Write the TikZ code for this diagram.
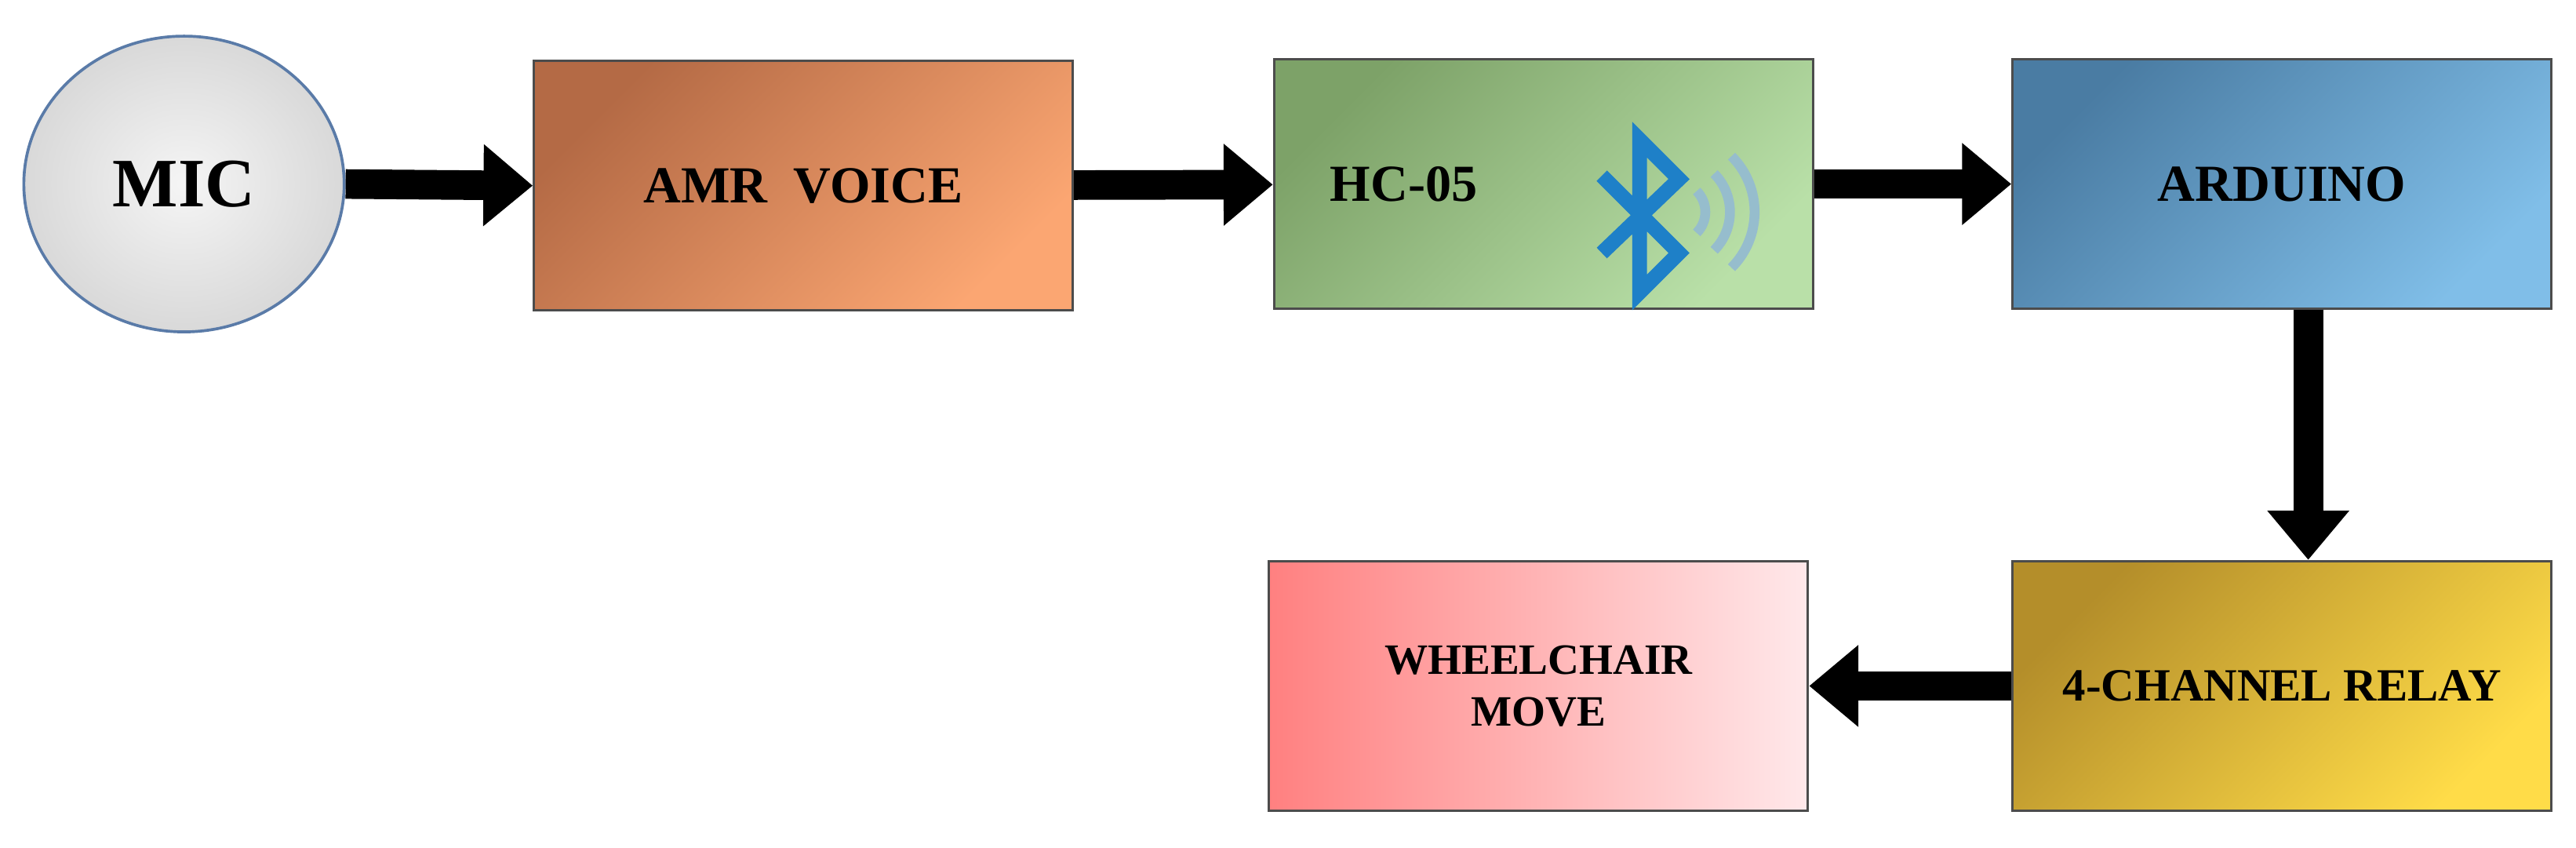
\documentclass[tikz,border=0pt]{standalone}
\usepackage{fontspec}
\setmainfont{Liberation Serif}
\usetikzlibrary{arrows.meta,positioning,shapes.geometric}
\definecolor{micedge}{HTML}{5A7BA8}
\definecolor{amrA}{HTML}{B46A45}
\definecolor{amrB}{HTML}{FBA672}
\definecolor{hcA}{HTML}{7DA268}
\definecolor{hcB}{HTML}{B9E0A8}
\definecolor{ardA}{HTML}{4A7CA3}
\definecolor{ardB}{HTML}{80BEE8}
\definecolor{relA}{HTML}{B48E2A}
\definecolor{relB}{HTML}{FFDC48}
\definecolor{whA}{HTML}{FF8080}
\definecolor{whB}{HTML}{FFE8EA}
\definecolor{btblue}{HTML}{1E80C8}
\begin{document}
\begin{tikzpicture}[
    x=1cm, y=1cm,
    block/.style={
        rectangle,
        draw=black!70,
        line width=0.4pt,
        minimum width=3.28cm,
        minimum height=1.52cm,
        align=center,
        font=\bfseries\fontsize{9}{11}\selectfont
    },
    diag/.style 2 args={left color=#1, right color=#2, shading angle=45},
    flow/.style={-{Triangle[length=3mm,width=4.8mm]}, line width=1.8mm, black}
]
    \useasboundingbox (0,0) rectangle (15.68,5.16);

    % --- TOP ROW ---
    \node[ellipse, draw=micedge, line width=0.5pt, minimum width=1.95cm, minimum height=1.8cm,
          inner color=gray!8, outer color=gray!30,
          font=\bfseries\fontsize{12}{14}\selectfont] (mic) at (1.12,4.04) {MIC};
    \node[block, diag={amrA}{amrB}] (amr) at (4.89,4.03) {AMR\ \ VOICE};
    \node[block, diag={hcA}{hcB}] (hc) at (9.395,4.04) {\hspace*{-1.7cm}HC-05};
    \node[block, diag={ardA}{ardB}] (ard) at (13.89,4.04) {ARDUINO};

    % --- BOTTOM ROW ---
    \node[block, diag={relA}{relB}, font=\bfseries\fontsize{8}{10}\selectfont] (relay) at (13.89,0.985) {4-CHANNEL RELAY};
    \node[block, left color=whA, right color=whB,
          font=\bfseries\fontsize{7.5}{9}\selectfont] (wheel) at (9.365,0.985) {WHEELCHAIR\\MOVE};

    % --- BLUETOOTH SIGN ---
    \draw[btblue, line width=0.9mm, line join=miter]
        (9.75,3.62) -- (10.22,4.07) -- (9.98,4.31) -- (9.98,3.38) -- (10.22,3.62) -- (9.75,4.09);
    \foreach \r in {0.18,0.33,0.48}
        \draw[gray!60!cyan!70, line width=0.6mm] (10.2,3.87) ++(-45:\r) arc (-45:45:\r);

    % --- CONNECTIONS ---
    \draw[flow] (mic.east) -- (amr.west);
    \draw[flow] (amr) -- (hc);
    \draw[flow] (hc) -- (ard);
    \draw[flow] ([xshift=1.6mm]ard.south) -- ([xshift=1.6mm]relay.north);
    \draw[flow] (relay) -- (wheel);
\end{tikzpicture}
\end{document}
